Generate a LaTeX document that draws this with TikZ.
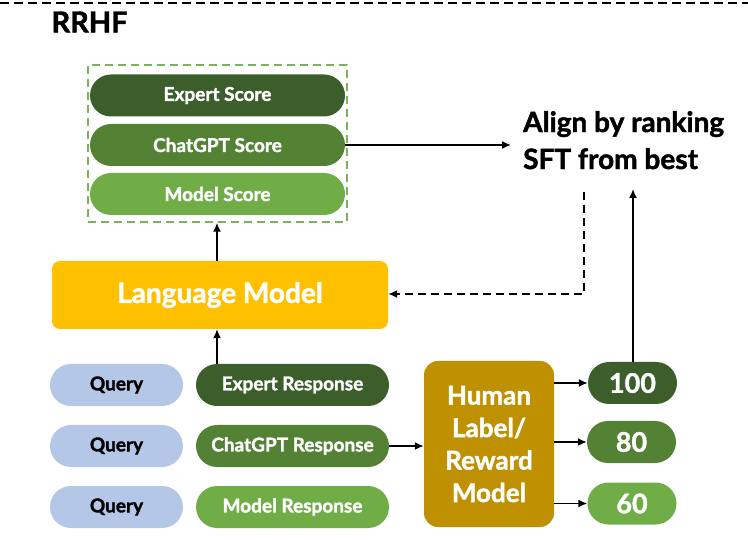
\documentclass[tikz,border=0pt]{standalone}
\usepackage{fontspec}
\setmainfont{Lato}[BoldFeatures={FakeBold=1.6}]
\usetikzlibrary{arrows.meta}
\definecolor{gdark}{HTML}{3B5E2B}
\definecolor{gmid}{HTML}{548235}
\definecolor{glight}{HTML}{70AD47}
\definecolor{qblue}{HTML}{B4C7E7}
\definecolor{lmyellow}{HTML}{FFC000}
\definecolor{hgold}{HTML}{BF9000}
\definecolor{boxgreen}{HTML}{7DB356}
\tikzset{
  pill/.style={rounded corners=21pt, minimum height=42pt, inner sep=0pt, font=\fontsize{19}{21}\selectfont\bfseries},
  wpill/.style={pill, fill=#1, text=white},
  qpill/.style={pill, fill=qblue, text=black, minimum width=133pt},
  numpill/.style={rounded corners=21pt, minimum height=42pt, minimum width=89pt, inner sep=0pt, fill=#1, text=white, font=\fontsize{27}{29}\selectfont\bfseries},
  conn/.style={line width=1.6pt, -{Latex[length=9pt,width=8pt]}},
}
\begin{document}
\begin{tikzpicture}[x=1pt,y=-1pt]
\useasboundingbox (0,0) rectangle (748,540);
\fill[white] (0,0) rectangle (748,540);
% top dashed line
\draw[line width=1.5pt, dash pattern=on 9pt off 5pt] (0,3) -- (748,3);
\node[anchor=west, font=\fontsize{29}{30}\selectfont\bfseries] (title) at (48,22) {RRHF};
% score box
\node[draw=boxgreen, line width=1.5pt, dash pattern=on 8pt off 5pt, minimum width=259pt, minimum height=157pt] (sbox) at (217.5,143.5) {};
\node[wpill=gdark, minimum width=255pt] (es) at (217.5,95.5) {Expert Score};
\node[wpill=gmid, minimum width=255pt] (cs) at (217.5,145) {ChatGPT Score};
\node[wpill=glight, minimum width=255pt] (ms) at (217.5,194) {Model Score};
% align text
\node[anchor=north west, align=left, inner sep=0pt, font=\fontsize{28}{37}\selectfont\bfseries] (align) at (523,111) {Align by ranking\\SFT from best};
% language model
\node[fill=lmyellow, rounded corners=8pt, minimum width=336pt, minimum height=68pt, text=white, font=\fontsize{28}{30}\selectfont\bfseries] (lm) at (220,295) {Language Model};
% queries
\node[qpill] (q1) at (116.5,385) {Query};
\node[qpill] (q2) at (116.5,446) {Query};
\node[qpill] (q3) at (116.5,507) {Query};
% responses
\node[wpill=gdark, minimum width=193pt] (r1) at (292.5,385) {Expert Response};
\node[wpill=gmid, minimum width=193pt] (r2) at (292.5,446) {ChatGPT Response};
\node[wpill=glight, minimum width=193pt] (r3) at (292.5,507) {Model Response};
% human label
\node[fill=hgold, rounded corners=14pt, minimum width=130pt, minimum height=166pt, text=white, align=center, font=\fontsize{26}{32.5}\selectfont\bfseries] (hl) at (489,444) {Human\\Label/\\Reward\\Model};
% numbers
\node[numpill=gdark] (n1) at (632.5,383) {100};
\node[numpill=gmid] (n2) at (631.5,442) {80};
\node[numpill=glight] (n3) at (632,503.5) {60};
% connectors
\coordinate (alignin) at (511,145);
\coordinate (alignup) at (633,189);
\coordinate (aligndown) at (584,192);
\draw[conn] (cs.east) -- (alignin);
\draw[conn] (lm.north -| 217,0) -- (sbox.south -| 217,0);
\draw[conn] (r1.north -| 217,0) -- (lm.south -| 217,0);
\draw[conn] (r2.east) -- (hl.west |- r2.east);
\draw[conn] (hl.east |- n1.west) -- (n1.west);
\draw[conn] (hl.east |- n2.west) -- (n2.west);
\draw[conn] (hl.east |- n3.west) -- (n3.west);
\draw[conn] (n1.north -| alignup) -- (alignup);
\draw[line width=1.6pt, dash pattern=on 8pt off 5pt, -{Latex[length=9pt,width=8pt]}] (aligndown) -- (aligndown |- 0,294) -- (lm.east |- 0,294);
\end{tikzpicture}
\end{document}
